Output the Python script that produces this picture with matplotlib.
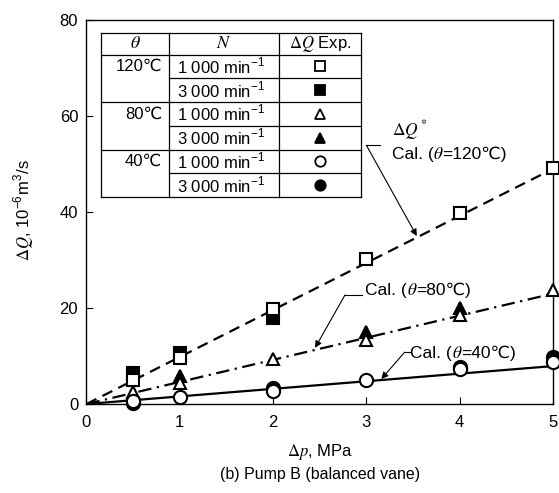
import matplotlib
matplotlib.use('Agg')
import matplotlib.pyplot as plt
from matplotlib.transforms import offset_copy

plt.rcParams['font.family'] = ['Liberation Sans', 'DejaVu Sans']
plt.rcParams['mathtext.fontset'] = 'custom'
plt.rcParams['mathtext.rm'] = 'STIXGeneral'
plt.rcParams['mathtext.it'] = 'STIXGeneral:italic'
plt.rcParams['mathtext.sf'] = 'Liberation Sans'
plt.rcParams['mathtext.bf'] = 'STIXGeneral:bold'

# measured leakage, 10^-6 m^3/s
dp_1000 = [0.5, 1, 2, 3, 4, 5]
q120_1000 = [5.0, 9.6, 19.7, 30.3, 39.7, 49.1]
q80_1000 = [2.6, 4.4, 9.3, 13.3, 18.5, 23.8]
q40_1000 = [0.7, 1.4, 2.8, 5.0, 7.2, 8.8]

dp120_3000 = [0.5, 1, 2]
q120_3000 = [6.5, 10.6, 18.0]
dp80_3000 = [1, 3, 4]
q80_3000 = [5.8, 15.1, 20.0]
dp40_3000 = [0.5, 2, 4, 5]
q40_3000 = [0.2, 3.4, 7.8, 9.7]

# calculated lines
dp_cal = [0, 5]
cal120 = [0, 49.0]
cal80 = [0, 23.0]
cal40 = [0, 7.9]
cal_temps = ['120℃', '80℃', '40℃']

# legend table
temps = ['120℃', '80℃', '40℃']
speeds = ['1 000 min$^{\\mathsf{-1}}$', '3 000 min$^{\\mathsf{-1}}$']
tbl_markers = [('s', 'white'), ('s', 'black'), ('^', 'white'),
               ('^', 'black'), ('o', 'white'), ('o', 'black')]

W, H = 559, 493
fig = plt.figure(figsize=(W / 100, H / 100), dpi=100)
x0, x1, y0, y1 = 86.5, 553, 20, 404
ax = fig.add_axes([x0 / W, 1 - y1 / H, (x1 - x0) / W, (y1 - y0) / H])
renderer = fig.canvas.get_renderer()

ax.plot(dp_cal, cal120, color='black', lw=1.6, ls=(0, (5, 3)), zorder=2)
ax.plot(dp_cal, cal80, color='black', lw=1.6, ls=(0, (6, 2.5, 1, 2.5)), zorder=2)
ax.plot(dp_cal, cal40, color='black', lw=1.6, ls='-', zorder=2)

mk = dict(ls='none', mec='black', mew=1.5, clip_on=False, zorder=3)
ax.plot(dp120_3000, q120_3000, 's', ms=8, mfc='black', **mk)
ax.plot(dp80_3000, q80_3000, '^', ms=9, mfc='black', **mk)
ax.plot(dp40_3000, q40_3000, 'o', ms=9.5, mfc='black', **mk)
ax.plot(dp_1000, q120_1000, 's', ms=8, mfc='white', **mk)
ax.plot(dp_1000, q80_1000, '^', ms=9, mfc='white', **mk)
ax.plot(dp_1000, q40_1000, 'o', ms=9.5, mfc='white', **mk)

ax.set_xlim(0, 5)
ax.set_ylim(0, 80)
ax.set_xticks(range(0, 6))
ax.set_yticks(range(0, 81, 20))
ax.tick_params(direction='in', length=5, width=0.8, labelsize=12)
ax.tick_params(axis='x', pad=8)
ax.tick_params(axis='y', pad=6)
for s in ax.spines.values():
    s.set_linewidth(1.0)

fig.text(24 / W, 1 - 210 / H, r'$\Delta Q$, 10$^{\mathsf{-6}}$m$^{\mathsf{3}}$/s',
         rotation=90, ha='center', va='center', fontsize=12)
fig.text(320 / W, 1 - 452 / H, r'$\Delta p$, MPa', ha='center', va='center', fontsize=12)
fig.text(320 / W, 1 - 475 / H, '(b) Pump B (balanced vane)', ha='center', va='center',
         fontsize=11.5)


def cal_label(x, y, temp):
    # plain text and the math theta are drawn piece by piece so the ℃ sign
    # can fall back to DejaVu Sans
    parts = ['Cal. (', r'$\theta$', '=' + temp + ')']
    dx = 0
    for p in parts:
        tr = offset_copy(ax.transData, fig=fig, x=dx, y=0, units='dots')
        t = ax.text(x, y, p, transform=tr, fontsize=12.5, ha='left', va='baseline')
        dx += t.get_window_extent(renderer).width - (1.5 if p.startswith('$') else 0)


arr = dict(arrowstyle='-|>', color='black', lw=0.8, mutation_scale=10,
           shrinkA=0, shrinkB=0)
ax.text(3.27, 57.0, r'$\Delta Q^*$', fontsize=12.5, ha='left', va='center')
cal_label(3.27, 51.0, cal_temps[0])
ax.plot([3.0, 3.15], [53.9, 53.9], color='black', lw=0.8)
ax.annotate('', xy=(3.54, 35.0), xytext=(3.0, 53.9), arrowprops=arr)

cal_label(2.99, 22.8, cal_temps[1])
ax.plot([2.77, 2.95], [22.7, 22.7], color='black', lw=0.8)
ax.annotate('', xy=(2.45, 11.7), xytext=(2.77, 22.7), arrowprops=arr)

cal_label(3.47, 9.6, cal_temps[2])
ax.plot([3.41, 3.47], [10.8, 10.8], color='black', lw=0.8)
ax.annotate('', xy=(3.16, 5.2), xytext=(3.41, 10.8), arrowprops=arr)

# legend table drawn in pixel layout converted to axes fraction
def fx(px):
    return (px - x0) / (x1 - x0)

def fy(py):
    return (y1 - py) / (y1 - y0)

tl, tc1, tc2, tr = 101, 169, 279, 361
ttop, thead = 32.7, 54.5
rh = 23.75
tbot = thead + 6 * rh
tkw = dict(transform=ax.transAxes, color='black', lw=0.9, clip_on=False)
ax.fill([fx(tl), fx(tr), fx(tr), fx(tl)], [fy(ttop), fy(ttop), fy(tbot), fy(tbot)],
        color='white', transform=ax.transAxes, zorder=4)
for px in [tl, tc1, tc2, tr]:
    ax.plot([fx(px), fx(px)], [fy(ttop), fy(tbot)], zorder=5, **tkw)
for py in [ttop, thead, tbot]:
    ax.plot([fx(tl), fx(tr)], [fy(py), fy(py)], zorder=5, **tkw)
for i in range(1, 6):
    py = thead + i * rh
    xa = tl if i % 2 == 0 else tc1
    ax.plot([fx(xa), fx(tr)], [fy(py), fy(py)], zorder=5, **tkw)

hy = fy((ttop + thead) / 2)
ax.text(fx((tl + tc1) / 2), hy, r'$\theta$', transform=ax.transAxes, ha='center',
        va='center', fontsize=13, zorder=6)
ax.text(fx((tc1 + tc2) / 2), hy, r'$N$', transform=ax.transAxes, ha='center',
        va='center', fontsize=13, zorder=6)
ax.text(fx((tc2 + tr) / 2), hy, r'$\Delta Q$ Exp.', transform=ax.transAxes,
        ha='center', va='center', fontsize=12, zorder=6)

for i in range(6):
    cy = fy(thead + (i + 0.5) * rh)
    if i % 2 == 0:
        ax.text(fx(tc1 - 7), cy, temps[i // 2], transform=ax.transAxes, ha='right',
                va='center', fontsize=12, zorder=6)
    ax.text(fx(tc1 + 8), cy, speeds[i % 2], transform=ax.transAxes, ha='left',
            va='center', fontsize=12, zorder=6)
    m, fc = tbl_markers[i]
    ax.plot([fx((tc2 + tr) / 2)], [cy], m, ms=6.5 if m == 's' else 7.5, mfc=fc,
            mec='black', mew=1.3, transform=ax.transAxes, clip_on=False, zorder=6)

fig.savefig('out.png', dpi=100)
